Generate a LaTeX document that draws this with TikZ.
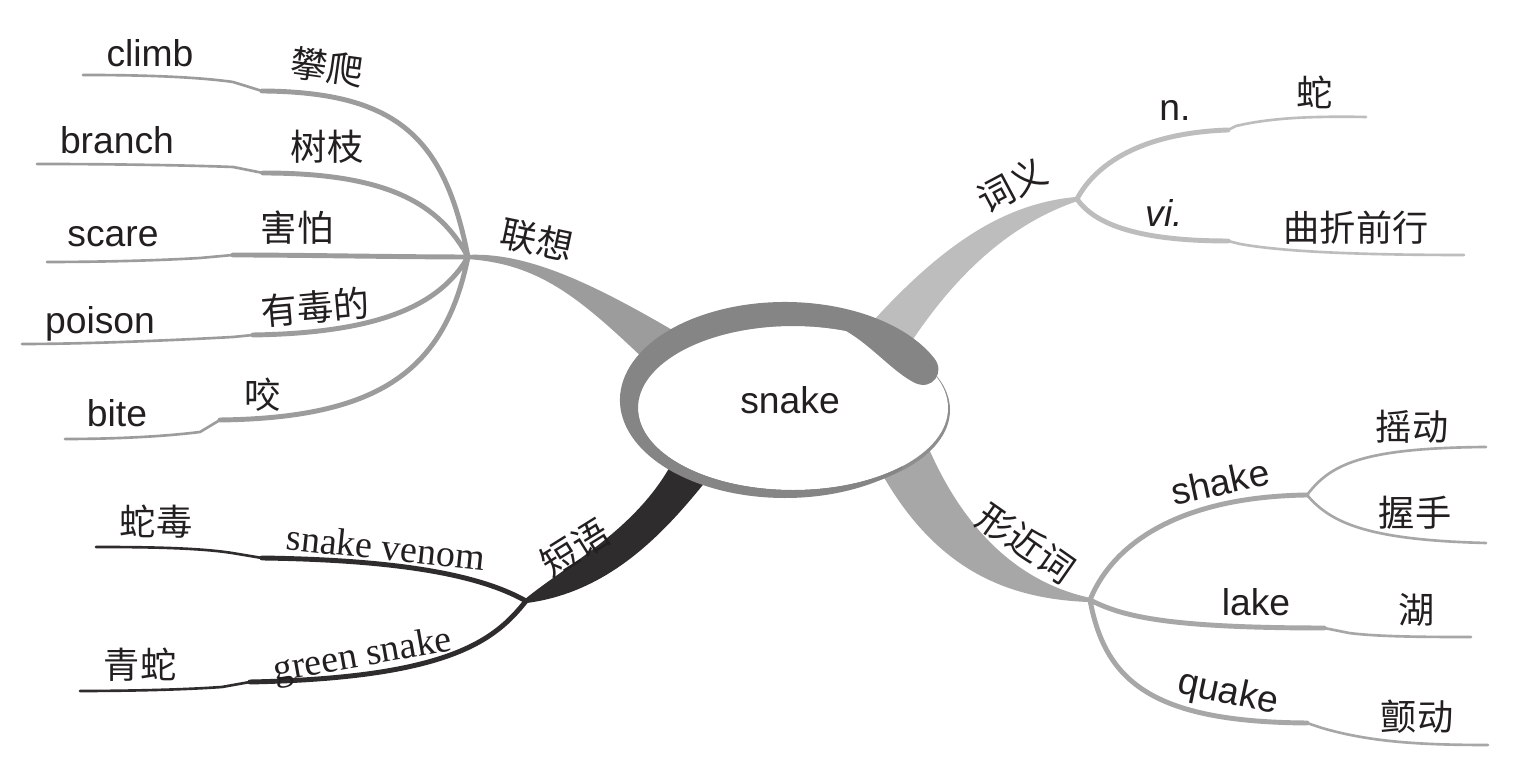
\documentclass[tikz,border=0pt]{standalone}
\usepackage{fontspec}
\setmainfont{Liberation Sans}
\newfontfamily\cjkfont{Noto Sans CJK SC}
\newfontfamily\timesfont{Liberation Serif}
\definecolor{ink}{HTML}{231F20}
\definecolor{lxgrey}{HTML}{9C9C9C}
\definecolor{phdark}{HTML}{2F2C2D}
\definecolor{wylight}{HTML}{BDBDBD}
\definecolor{xjgrey}{HTML}{A7A7A7}
\definecolor{ringgrey}{HTML}{858585}
\definecolor{rimgrey}{HTML}{8E8E8E}

\begin{document}
\begin{tikzpicture}[x=0.01cm,y=-0.01cm,line cap=round,line join=round,
		en/.style={font=\fontsize{10.6}{12}\selectfont,text=ink,inner sep=0pt},
		tm/.style={font=\timesfont\fontsize{10.8}{12}\selectfont,text=ink,inner sep=0pt},
		zh/.style={font=\cjkfont\fontsize{10.3}{12}\selectfont,text=ink,inner sep=0pt},
		stem/.style={line width=1.4pt},
		twig/.style={line width=0.75pt}]
		\useasboundingbox (0,0) rectangle (1527,774);
		\fill[white] (0,0) rectangle (1527,774);
		\coordinate (lx) at (468,257);
		\coordinate (px) at (526,601);
		\coordinate (wx) at (1077,199);
		\coordinate (xx) at (1090,600);
		\coordinate (sx) at (1307,495);
		\filldraw[lxgrey,line width=1.2pt] (lx) .. controls (530,254) and (600,290) .. (680,337)
			  -- (650,362) .. controls (580,295) and (540,262) .. (lx) -- cycle;
		\filldraw[phdark,line width=1.2pt] (px) .. controls (570,565) and (640,530) .. (676,460)
			  -- (712,470) .. controls (665,530) and (610,590) .. (px) -- cycle;
		\filldraw[wylight,line width=1.2pt] (wx) .. controls (1010,205) and (950,240) .. (875,322)
			  -- (910,340) .. controls (970,250) and (1030,215) .. (wx) -- cycle;
		\filldraw[xjgrey,line width=1.2pt] (928,452) .. controls (965,535) and (1020,585) .. (xx)
			  .. controls (1010,597) and (940,570) .. (885,475) -- cycle;
		\draw[lxgrey,stem] (lx) .. controls (445,140) and (400,92) .. (262,91)
			  (lx) .. controls (440,205) and (390,173) .. (263,173)
			  (lx) .. controls (400,257) and (300,255) .. (233,255)
			  (lx) .. controls (440,305) and (380,333) .. (253,335)
			  (lx) .. controls (445,370) and (380,418) .. (220,420);
		\draw[lxgrey,twig] (262,91) -- (233,82) .. controls (190,76) and (130,75) .. (83,75)
			  (263,173) -- (233,167) .. controls (180,165) and (100,164) .. (37,164)
			  (233,255) -- (200,258) .. controls (150,261) and (90,262) .. (47,262)
			  (253,335) -- (233,337) .. controls (160,341) and (80,344) .. (22,344)
			  (220,420) -- (200,432) .. controls (160,437) and (110,439) .. (65,439);
		\draw[phdark,stem] (px) .. controls (480,575) and (400,560) .. (262,558)
			  (px) .. controls (495,640) and (450,678) .. (250,682);
		\draw[phdark,twig] (262,558) -- (232,553) .. controls (200,548) and (150,547) .. (96,547)
			  (250,682) -- (222,687) .. controls (180,690) and (120,691) .. (80,691);
		\draw[wylight,stem] (wx) .. controls (1095,165) and (1140,133) .. (1228,130)
			  (wx) .. controls (1095,225) and (1140,241) .. (1228,241);
		\draw[wylight,twig] (1228,130) -- (1236,126) .. controls (1270,118) and (1310,116) .. (1366,117)
			  (1228,241) -- (1240,244) .. controls (1290,253) and (1380,255) .. (1464,255);
		\draw[xjgrey,stem] (xx) .. controls (1110,550) and (1170,497) .. (sx)
			  (xx) .. controls (1120,615) and (1160,628) .. (1324,628)
			  (xx) .. controls (1105,680) and (1150,722) .. (1307,723);
		\draw[xjgrey,twig] (sx) .. controls (1330,465) and (1360,448) .. (1486,447)
			  (sx) .. controls (1330,522) and (1365,540) .. (1486,543)
			  (1324,628) -- (1349,633) .. controls (1380,637) and (1430,637) .. (1471,637)
			  (1307,723) -- (1322,728) .. controls (1370,742) and (1420,745) .. (1488,745);
		\fill[rimgrey] (794,410) ellipse [x radius=156, y radius=84];
		\fill[white] (793,408) ellipse [x radius=155, y radius=82];
		\fill[ringgrey] (934.5,358.6) arc[start angle=335, end angle=45, x radius=165, y radius=98]
			  -- (902.6,466) arc[start angle=45, end angle=290, x radius=155, y radius=82]
			  .. controls (872,346) and (893,372) .. (915,383)
			  .. controls (933,391) and (945,372) .. (934.5,358.6) -- cycle;
		\node[en] (snake) at (790,400) {snake};
		\node[zh,rotate=-12] (lianxiang) at (537,240) {联想};
		\node[zh,rotate=32] (duanyu) at (575,548) {短语};
		\node[zh,rotate=28] (ciyi) at (1012,185) {词义};
		\node[zh,rotate=-35] (xingjinci) at (1026,543) {形近词};
		\node[en] (climb) at (150,53) {climb};
		\node[en] (branch) at (117,140) {branch};
		\node[en] (scare) at (113,237) {scare};
		\node[en] (poison) at (100,324) {poison};
		\node[en] (bite) at (117,413) {bite};
		\node[zh,rotate=-8] (panpa) at (327,67) {攀爬};
		\node[zh] (shuzhi) at (327,147) {树枝};
		\node[zh] (haipa) at (297,228) {害怕};
		\node[zh,rotate=5] (youdu) at (315,307) {有毒的};
		\node[zh] (yao) at (263,395) {咬};
		\node[zh] (shedu) at (156,522) {蛇毒};
		\node[zh] (qingshe) at (140,665) {青蛇};
		\node[tm,rotate=-6] (venom) at (386,547) {snake venom};
		\node[tm,rotate=10] (green) at (363,657) {green snake};
		\node[en] (noun) at (1175,110) {n.};
		\node[en,font=\itshape\fontsize{10.6}{12}\selectfont] (verb) at (1164,213) {vi.};
		\node[zh] (she) at (1315,92) {蛇};
		\node[zh] (quzhe) at (1356,228) {曲折前行};
		\node[en,rotate=12] (shake) at (1220,482) {shake};
		\node[en] (lake) at (1256,602) {lake};
		\node[en,rotate=-12] (quake) at (1228,694) {quake};
		\node[zh] (yaodong) at (1412,427) {摇动};
		\node[zh] (woshou) at (1415,513) {握手};
		\node[zh] (hu) at (1417,610) {湖};
		\node[zh] (chandong) at (1417,717) {颤动};
	\end{tikzpicture}
\end{document}
